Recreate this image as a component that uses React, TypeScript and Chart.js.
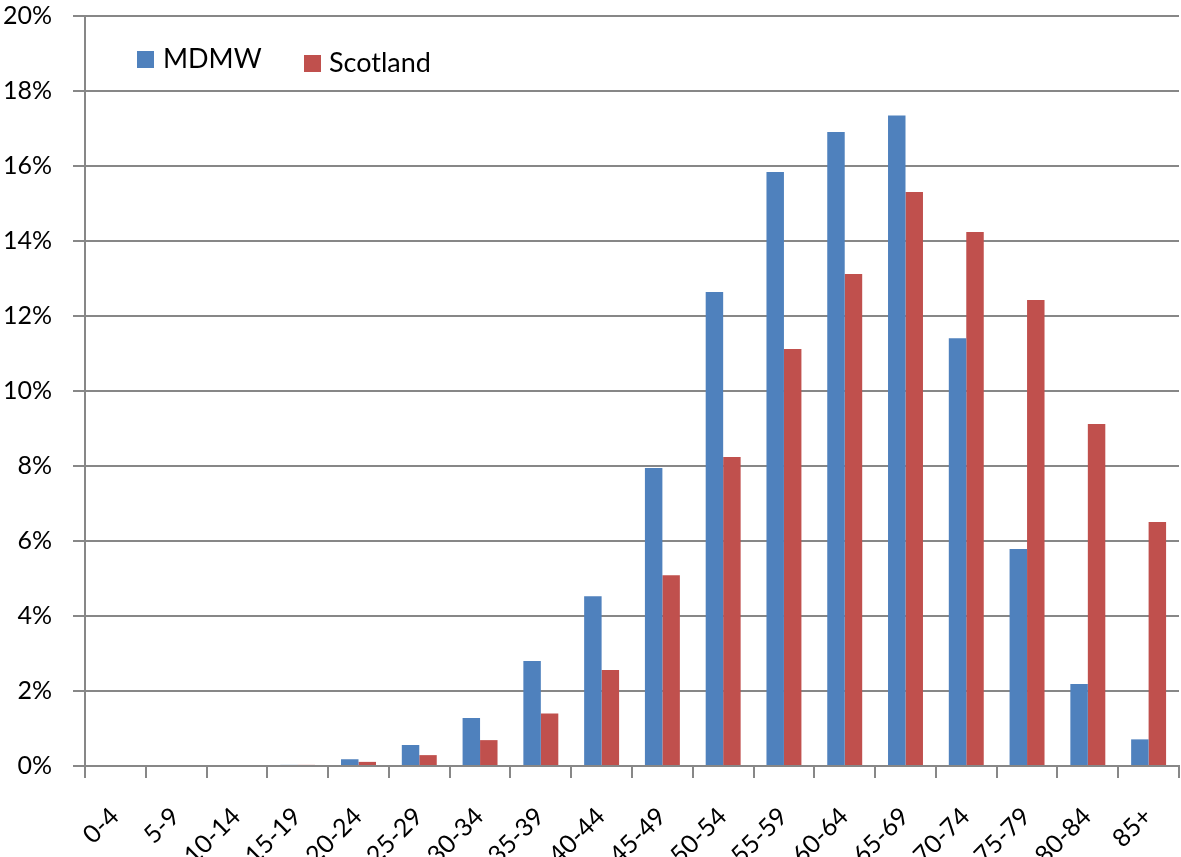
import React, { useEffect, useRef } from 'react';
import { Chart, registerables } from 'chart.js';

Chart.register(...registerables);

const categories = ['0-4', '5-9', '10-14', '15-19', '20-24', '25-29', '30-34', '35-39', '40-44', '45-49', '50-54', '55-59', '60-64', '65-69', '70-74', '75-79', '80-84', '85+'];
const mdmwValues = [0, 0, 0, 0.03, 0.18, 0.56, 1.28, 2.8, 4.53, 7.95, 12.64, 15.84, 16.91, 17.35, 11.41, 5.79, 2.19, 0.71];
const scotlandValues = [0, 0, 0, 0.03, 0.11, 0.29, 0.69, 1.4, 2.56, 5.09, 8.24, 11.12, 13.12, 15.31, 14.24, 12.43, 9.12, 6.51];
const seriesNames = ['MDMW', 'Scotland'];
const seriesColors = ['#4F81BD', '#C0504D'];

const FONT = 'Lato, "Open Sans", sans-serif';
const GRID = '#878787';

const legendPlugin = {
  id: 'insideLegend',
  afterDraw(chart: any) {
    const ctx = chart.ctx;
    const area = chart.chartArea;
    const items = [
      { x: area.left + 52, y: area.top + 35, tx: area.left + 78 },
      { x: area.left + 219, y: area.top + 39, tx: area.left + 244 },
    ];
    ctx.save();
    ctx.font = `27px ${FONT}`;
    ctx.textBaseline = 'middle';
    ctx.textAlign = 'left';
    chart.data.datasets.forEach((ds: any, i: number) => {
      const it = items[i];
      ctx.fillStyle = ds.backgroundColor;
      ctx.fillRect(it.x, it.y, 17, 17);
      ctx.fillStyle = '#000';
      ctx.fillText(ds.label, it.tx, it.y + 8);
    });
    ctx.restore();
  },
};

// Draws the rotated category labels of the x scale at the scale's own tick pixels.
const xLabelPlugin = {
  id: 'rotatedXLabels',
  afterDraw(chart: any) {
    const ctx = chart.ctx;
    const scale = chart.scales.x;
    const labels = chart.data.labels as string[];
    ctx.save();
    ctx.font = `25px ${FONT}`;
    ctx.fillStyle = '#000';
    ctx.textAlign = 'right';
    ctx.textBaseline = 'alphabetic';
    labels.forEach((lab, i) => {
      const px = scale.getPixelForTick(i);
      ctx.save();
      ctx.translate(px + 5, scale.top + 52);
      ctx.rotate(-Math.PI / 4);
      ctx.fillText(lab, 0, 0);
      ctx.restore();
    });
    ctx.restore();
  },
};

export default function App() {
  const ref = useRef<HTMLCanvasElement | null>(null);
  useEffect(() => {
    document.body.style.margin = '0';
    if (!ref.current) return;
    Chart.defaults.font.family = FONT;
    Chart.defaults.color = '#000';
    const chart = new Chart(ref.current, {
      type: 'bar',
      data: {
        labels: categories,
        datasets: [
          { label: seriesNames[0], data: mdmwValues, backgroundColor: seriesColors[0], categoryPercentage: 0.575, barPercentage: 1 },
          { label: seriesNames[1], data: scotlandValues, backgroundColor: seriesColors[1], categoryPercentage: 0.575, barPercentage: 1 },
        ],
      },
      options: {
        responsive: false,
        animation: false,
        layout: { padding: { top: 16, right: 2, left: 0, bottom: 0 } },
        plugins: {
          legend: { display: false },
          tooltip: { enabled: false },
        },
        scales: {
          x: {
            grid: { offset: true, drawOnChartArea: false, drawTicks: true, tickLength: 12, color: GRID, lineWidth: 2 },
            border: { color: GRID, width: 2 },
            ticks: { display: false, autoSkip: false },
            afterFit(scale: any) { scale.height = 91; scale.paddingLeft = 0; scale.paddingRight = 0; },
          },
          y: {
            min: 0,
            max: 20,
            grid: { color: GRID, lineWidth: 2, tickLength: 12, drawTicks: true },
            border: { color: GRID, width: 2 },
            ticks: { stepSize: 2, color: '#000', font: { family: FONT, size: 25 }, padding: 21, callback: (v: any) => `${v}%` },
            afterFit(scale: any) { scale.width = 85; scale.paddingTop = 0; scale.paddingBottom = 0; },
          },
        },
      },
      plugins: [legendPlugin, xLabelPlugin],
    });
    return () => chart.destroy();
  }, []);
  return (
    <div style={{ width: 1181, height: 857 }}>
      <canvas ref={ref} width={1181} height={857} />
    </div>
  );
}
